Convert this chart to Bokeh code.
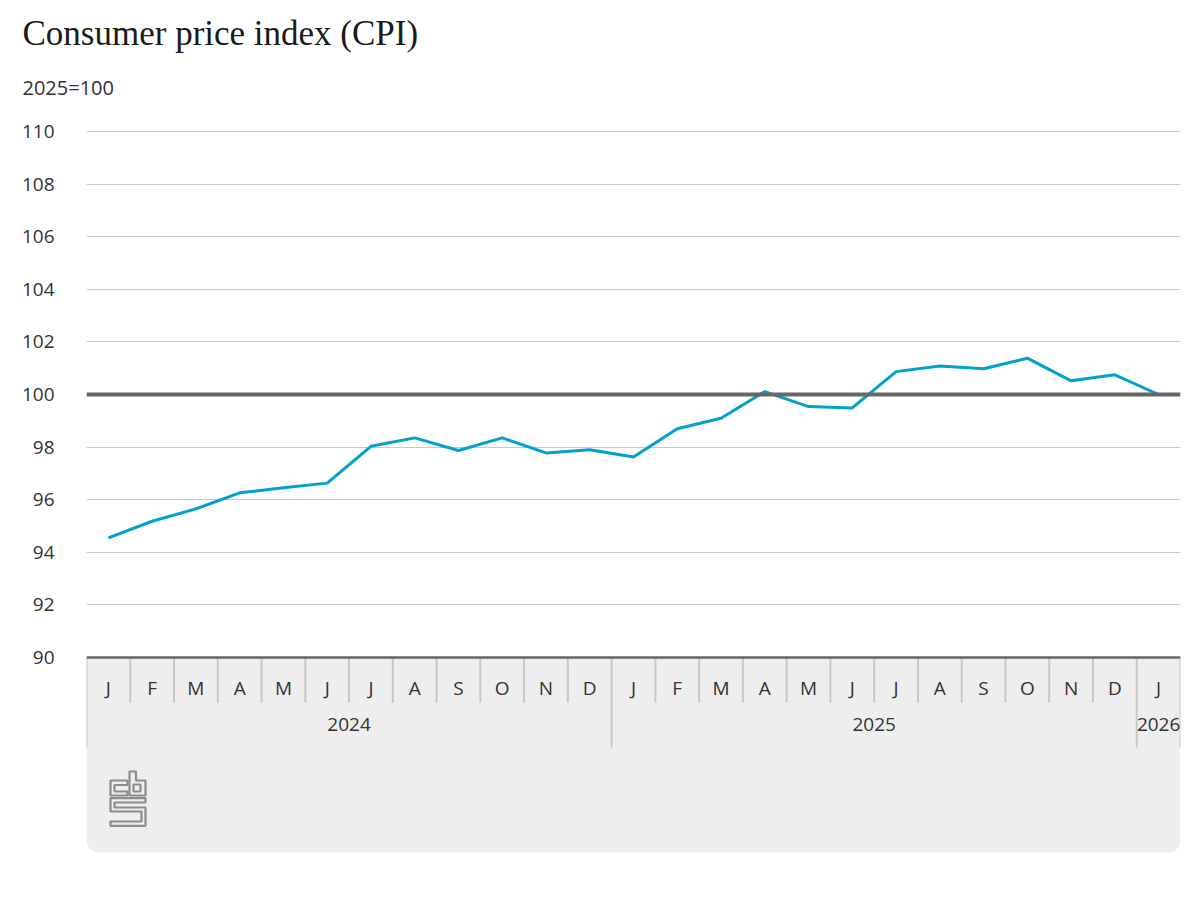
from bokeh.plotting import figure
from bokeh.models import FixedTicker, Span, Title, Range1d
from bokeh.core.properties import value
from bokeh.embed import file_html
from bokeh.resources import INLINE

# ---- data ----
months = ["J", "F", "M", "A", "M", "J", "J", "A", "S", "O", "N", "D",
          "J", "F", "M", "A", "M", "J", "J", "A", "S", "O", "N", "D",
          "J"]
years = ["2024", "2025", "2026"]
year_months = [12, 12, 1]
cpi = [94.55, 95.18, 95.65, 96.26, 96.45, 96.63, 98.03, 98.35, 97.87, 98.35,
       97.78, 97.90, 97.62, 98.70, 99.10, 100.11, 99.54, 99.49, 100.87, 101.08,
       100.98, 101.38, 100.52, 100.75, 100.00]
y_ticks = [90, 92, 94, 96, 98, 100, 102, 104, 106, 108, 110]
title_text = "Consumer price index (CPI)"
subtitle_text = "2025=100"

# ---- geometry ----
W, H = 1192, 878
BL, BR, BT, BB = 86, 12, 126, 16
n = len(months)
PX_X = (W - BL - BR) / n
PX_Y = 526 / 20.0
TOP_PAD = 5  # px of headroom above the top tick


def dy(page_y):
    return 110 - (page_y - 131) / PX_Y


def dx(page_x):
    return (page_x - 86) / PX_X - 0.5


y_top = dy(131 - TOP_PAD)
y_bot = dy(H - BB)

FONT = "Open Sans"
TXT = "#333333"

p = figure(width=W, height=H, x_range=Range1d(-0.5, n - 0.5),
           y_range=Range1d(y_bot, y_top), output_backend="svg",
           toolbar_location=None, x_axis_location=None,
           min_border_left=BL, min_border_right=BR,
           min_border_top=BT, min_border_bottom=BB,
           outline_line_color=None, background_fill_color="white")

# titles
sub = Title(text=subtitle_text, align="left", text_font=FONT,
            text_font_size="20px", text_font_style="normal",
            text_color=TXT, offset=-64, standoff=52)
p.add_layout(sub, "above")
ttl = Title(text=title_text, align="left", text_font="Liberation Serif",
            text_font_size="35px", text_font_style="normal",
            text_color="#1a1a1a", offset=-64, standoff=-14)
p.add_layout(ttl, "above")

# y axis
ya = p.yaxis[0]
ya.ticker = FixedTicker(ticks=y_ticks)
ya.axis_line_color = None
ya.major_tick_line_color = None
ya.minor_tick_line_color = None
ya.major_label_standoff = 26
ya.major_label_text_font = FONT
ya.major_label_text_font_size = "19px"
ya.major_label_text_color = TXT

p.xgrid.visible = False
p.ygrid.ticker = FixedTicker(ticks=[t for t in y_ticks if t != y_ticks[0]])
p.ygrid.grid_line_color = "#c8c8c8"
p.ygrid.grid_line_width = 1

# category band and logo box
p.quad(left=-0.5, right=n - 0.5, top=dy(735), bottom=dy(852),
       fill_color="#eeeeee", line_color=None, border_radius=12)
p.quad(left=-0.5, right=n - 0.5, top=y_ticks[0], bottom=dy(747),
       fill_color="#eeeeee", line_color=None)

# separators
year_bounds = [-0.5]
acc = -0.5
for c in year_months:
    acc += c
    year_bounds.append(acc)
month_bounds = [i + 0.5 for i in range(n - 1) if (i + 0.5) not in year_bounds]
p.segment(x0=month_bounds, x1=month_bounds, y0=[y_ticks[0]] * len(month_bounds),
          y1=[dy(702)] * len(month_bounds), line_color="#c8c8c8", line_width=2)
p.segment(x0=year_bounds, x1=year_bounds, y0=[y_ticks[0]] * len(year_bounds),
          y1=[dy(747)] * len(year_bounds), line_color="#c8c8c8", line_width=2)

# month and year labels
idx = list(range(n))
p.text(x=idx, y=[dy(687)] * n, text=months, text_align="center",
       text_baseline="middle", text_font=value(FONT), text_font_size="19px",
       text_color=TXT)
year_centers = []
start = 0
for c in year_months:
    year_centers.append(start + (c - 1) / 2)
    start += c
p.text(x=year_centers, y=[dy(724)] * len(years), text=years, text_align="center",
       text_baseline="middle", text_font=value(FONT), text_font_size="19px",
       text_color=TXT)

# reference lines
p.add_layout(Span(location=100, dimension="width", line_color="#666666",
                  line_width=4))
p.add_layout(Span(location=y_ticks[0], dimension="width", line_color="#666666",
                  line_width=2.5))

# data line
p.line(x=idx, y=cpi, line_color="#00a1cd", line_width=3)

# logo (outline glyph shapes in pixel offsets)
logo_shapes = [
    [(110, 780), (127, 780), (127, 784.5), (114, 784.5), (114, 791), (127, 791), (127, 795), (110, 795)],
    [(129, 771), (135.5, 771), (135.5, 780), (145, 780), (145, 795), (129, 795)],
    [(133, 784), (140, 784), (140, 791), (133, 791)],
    [(110, 797.7), (145, 797.7), (145, 802), (114, 802), (114, 807), (145, 807),
     (145, 825.3), (110, 825.3), (110, 821), (141, 821), (141, 811), (110, 811)],
]
p.patches(xs=[[dx(a) for a, b in s] for s in logo_shapes],
          ys=[[dy(b) for a, b in s] for s in logo_shapes],
          fill_alpha=0, line_color="#8c8c8c", line_width=2.2)

open("out.html", "w").write(file_html(p, INLINE))
